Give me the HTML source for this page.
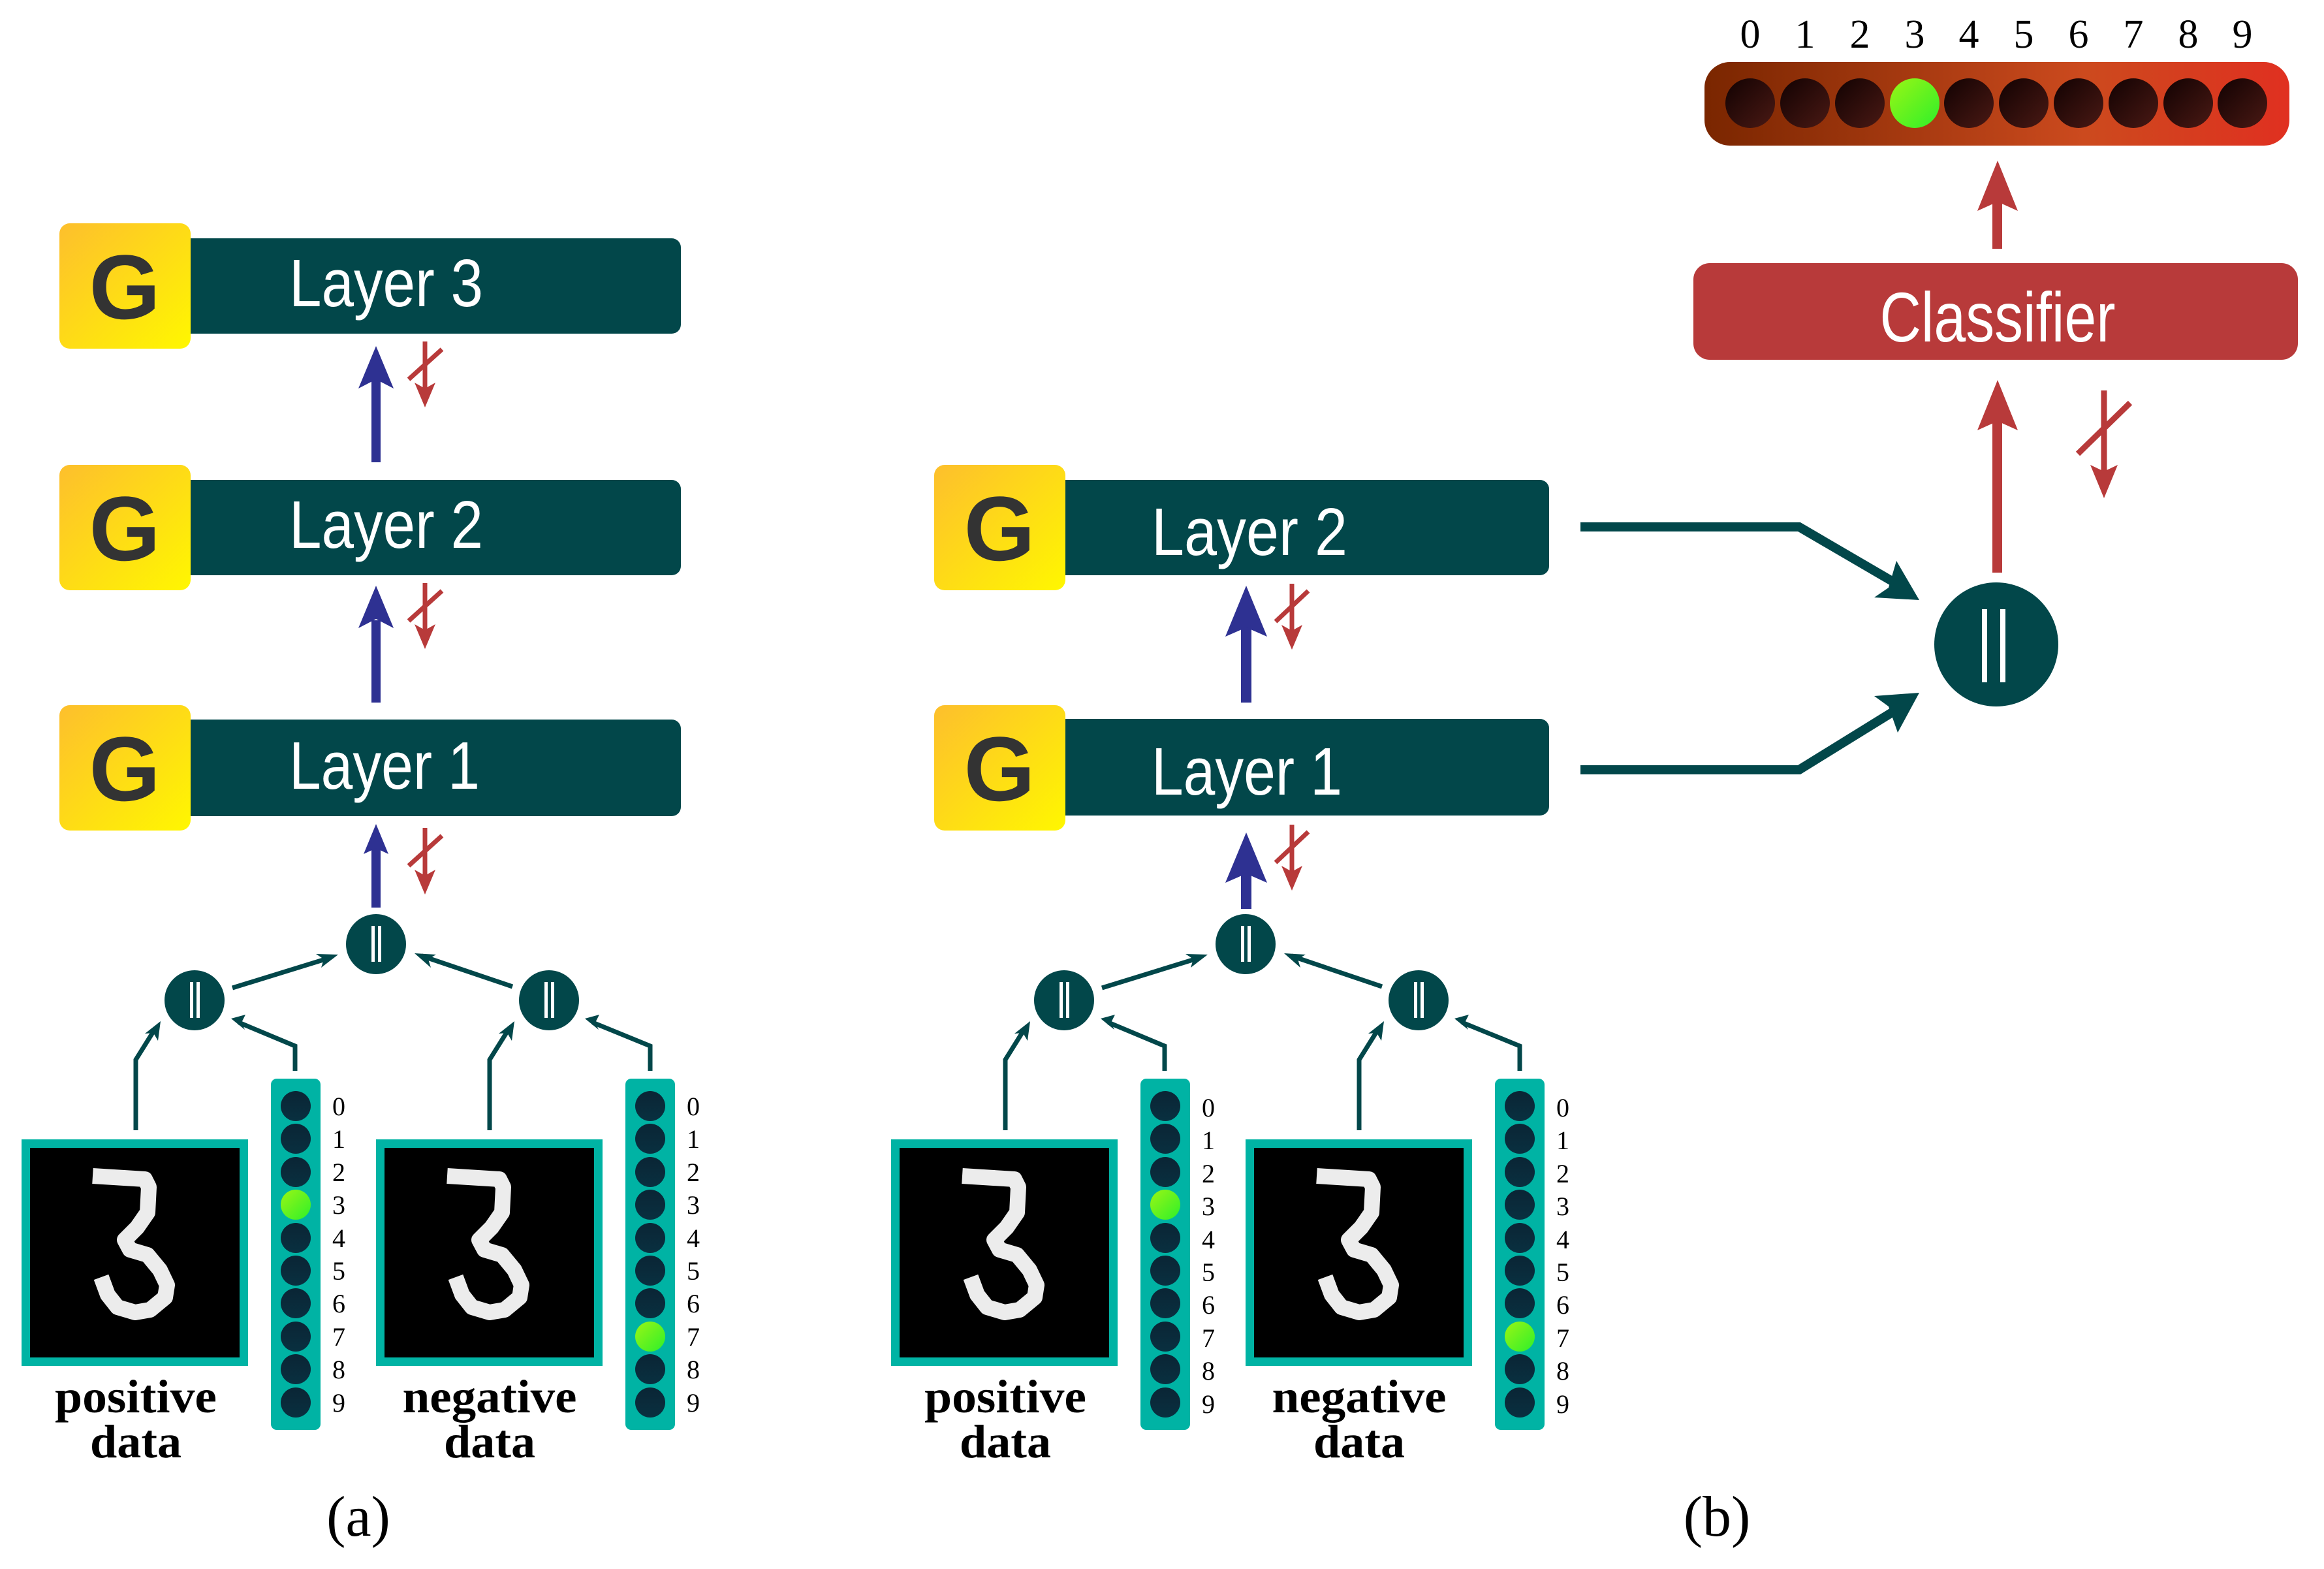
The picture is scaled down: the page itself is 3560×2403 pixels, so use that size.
<!DOCTYPE html>
<html><head><meta charset="utf-8"><style>
html,body{margin:0;padding:0;background:#fff;}
svg{display:block;}
.lt{font-family:"Liberation Sans",sans-serif;fill:#fff;font-size:103px;}
.g{font-family:"Liberation Sans",sans-serif;font-weight:bold;fill:#333;font-size:140px;}
.dl{font-family:"Liberation Serif",serif;font-size:40px;fill:#000;}
.cap{font-family:"Liberation Serif",serif;font-weight:bold;font-size:72px;fill:#000;}
</style></head><body>
<svg width="3560" height="2403" viewBox="0 0 3560 2403" xmlns="http://www.w3.org/2000/svg">
<defs>
<linearGradient id="gy" x1="0" y1="0" x2="1" y2="1"><stop offset="0" stop-color="#fdbf2d"/><stop offset="1" stop-color="#fff700"/></linearGradient>
<linearGradient id="ob" x1="0" y1="0" x2="1" y2="0"><stop offset="0" stop-color="#7a2600"/><stop offset="0.65" stop-color="#cc4a1e"/><stop offset="1" stop-color="#e03020"/></linearGradient>
<linearGradient id="dk" x1="0" y1="0" x2="1" y2="1"><stop offset="0" stop-color="#120202"/><stop offset="1" stop-color="#4a1914"/></linearGradient>
<linearGradient id="gr" x1="0" y1="0" x2="1" y2="1"><stop offset="0" stop-color="#9af515"/><stop offset="1" stop-color="#2ef02a"/></linearGradient>
<linearGradient id="vd" x1="0" y1="0" x2="0" y2="1"><stop offset="0" stop-color="#0a2535"/><stop offset="1" stop-color="#093040"/></linearGradient>
</defs>

<!-- ===== Panel (a) layers ===== -->
<g>
<rect x="120" y="365" width="923" height="146" rx="14" fill="#02474a"/>
<rect x="91" y="342" width="201" height="192" rx="16" fill="url(#gy)"/>
<text class="g" x="191" y="488" text-anchor="middle">G</text>
<text class="lt" x="443" y="469" textLength="297" lengthAdjust="spacingAndGlyphs">Layer 3</text>

<rect x="120" y="735" width="923" height="146" rx="14" fill="#02474a"/>
<rect x="91" y="712" width="201" height="192" rx="16" fill="url(#gy)"/>
<text class="g" x="191" y="858" text-anchor="middle">G</text>
<text class="lt" x="443" y="839" textLength="297" lengthAdjust="spacingAndGlyphs">Layer 2</text>

<rect x="120" y="1102" width="923" height="148" rx="14" fill="#02474a"/>
<rect x="91" y="1080" width="201" height="192" rx="16" fill="url(#gy)"/>
<text class="g" x="191" y="1226" text-anchor="middle">G</text>
<text class="lt" x="443" y="1208" textLength="292" lengthAdjust="spacingAndGlyphs">Layer 1</text>

<rect x="569" y="580" width="14" height="128" fill="#2e3192"/>
<polygon points="576,530 603,595 576,581 549,595" fill="#2e3192"/>
<rect x="569" y="950" width="14" height="126" fill="#2e3192"/>
<polygon points="576,897 603,962 576,948 549,962" fill="#2e3192"/>
<rect x="569" y="1290" width="14" height="100" fill="#2e3192"/>
<polygon points="576,1262 595,1308 576,1299 557,1308" fill="#2e3192"/>
<g fill="#b83a3a" stroke="#b83a3a">
<line x1="651" y1="523" x2="651" y2="600" stroke-width="7"/>
<polygon points="651,624 667,586 651,595 635,586" stroke="none"/>
<line x1="626" y1="581" x2="677" y2="535" stroke-width="7"/>
<line x1="651" y1="893" x2="651" y2="970" stroke-width="7"/>
<polygon points="651,994 667,956 651,965 635,956" stroke="none"/>
<line x1="626" y1="951" x2="677" y2="905" stroke-width="7"/>
<line x1="651" y1="1268" x2="651" y2="1346" stroke-width="7"/>
<polygon points="651,1370 667,1332 651,1341 635,1332" stroke="none"/>
<line x1="626" y1="1326" x2="677" y2="1280" stroke-width="7"/>
</g>
</g>

<!-- ===== Panel (b) layers ===== -->
<g>
<rect x="1460" y="735" width="913" height="146" rx="14" fill="#02474a"/>
<rect x="1431" y="712" width="201" height="192" rx="16" fill="url(#gy)"/>
<text class="g" x="1531" y="858" text-anchor="middle">G</text>
<text class="lt" x="1764" y="850" textLength="300" lengthAdjust="spacingAndGlyphs">Layer 2</text>

<rect x="1460" y="1101" width="913" height="148" rx="14" fill="#02474a"/>
<rect x="1431" y="1080" width="201" height="192" rx="16" fill="url(#gy)"/>
<text class="g" x="1531" y="1226" text-anchor="middle">G</text>
<text class="lt" x="1764" y="1217" textLength="292" lengthAdjust="spacingAndGlyphs">Layer 1</text>

<rect x="1901" y="960" width="16" height="116" fill="#2e3192"/>
<polygon points="1909,897 1941,975 1909,961 1877,975" fill="#2e3192"/>
<rect x="1901" y="1330" width="16" height="62" fill="#2e3192"/>
<polygon points="1909,1275 1941,1352 1909,1338 1877,1352" fill="#2e3192"/>
<g fill="#b83a3a" stroke="#b83a3a">
<line x1="1979" y1="894" x2="1979" y2="970" stroke-width="7"/>
<polygon points="1979,995 1995,957 1979,966 1963,957" stroke="none"/>
<line x1="1954" y1="952" x2="2004" y2="905" stroke-width="7"/>
<line x1="1979" y1="1263" x2="1979" y2="1340" stroke-width="7"/>
<polygon points="1979,1364 1995,1326 1979,1335 1963,1326" stroke="none"/>
<line x1="1954" y1="1321" x2="2004" y2="1274" stroke-width="7"/>
</g>

<g fill="none" stroke="#02474a" stroke-width="14">
<polyline points="2421,807 2756,807 2900,891"/>
<polyline points="2421,1179 2756,1179 2900,1090"/>
</g>
<polygon points="2940,919 2871,915 2893,900 2905,859" fill="#02474a"/>
<polygon points="2940,1061 2871,1066 2893,1082 2907,1122" fill="#02474a"/>
<circle cx="3058" cy="987" r="95" fill="#02474a"/>
<rect x="3036" y="933" width="8" height="112" fill="#fff"/>
<rect x="3064" y="933" width="8" height="112" fill="#fff"/>

<rect x="3052" y="640" width="15" height="237" fill="#b83a3a"/>
<polygon points="3060,582 3091,659 3060,645 3029,659" fill="#b83a3a"/>
<rect x="2594" y="403" width="926" height="148" rx="25" fill="#b83a3a"/>
<text x="3060" y="523" text-anchor="middle" font-family="'Liberation Sans',sans-serif" font-size="108" fill="#fff" textLength="361" lengthAdjust="spacingAndGlyphs">Classifier</text>
<rect x="3052" y="305" width="15" height="76" fill="#b83a3a"/>
<polygon points="3060,246 3091,323 3060,309 3029,323" fill="#b83a3a"/>
<g stroke="#b83a3a" stroke-width="9">
<line x1="3223" y1="598" x2="3223" y2="730"/>
<line x1="3183" y1="695" x2="3263" y2="617"/>
</g>
<polygon points="3223,763 3244,712 3223,722 3202,712" fill="#b83a3a"/>

<rect x="2611" y="95" width="896" height="128" rx="39" fill="url(#ob)"/>
<g fill="url(#dk)">
<ellipse cx="2681" cy="158" rx="38" ry="38"/>
<ellipse cx="2765" cy="158" rx="38" ry="38"/>
<ellipse cx="2849" cy="158" rx="38" ry="38"/>
<ellipse cx="2933" cy="158" rx="38" ry="38" fill="url(#gr)"/>
<ellipse cx="3016" cy="158" rx="38" ry="38"/>
<ellipse cx="3100" cy="158" rx="38" ry="38"/>
<ellipse cx="3184" cy="158" rx="38" ry="38"/>
<ellipse cx="3268" cy="158" rx="38" ry="38"/>
<ellipse cx="3352" cy="158" rx="38" ry="38"/>
<ellipse cx="3435" cy="158" rx="38" ry="38"/>
</g>
<g font-family="'Liberation Serif',serif" font-size="62" text-anchor="middle" fill="#000">
<text x="2681" y="73">0</text><text x="2765" y="73">1</text><text x="2849" y="73">2</text><text x="2933" y="73">3</text><text x="3016" y="73">4</text><text x="3100" y="73">5</text><text x="3184" y="73">6</text><text x="3268" y="73">7</text><text x="3352" y="73">8</text><text x="3435" y="73">9</text>
</g>
</g>

<!-- ===== Bottom input section (a) ===== -->
<g>
<g fill="#02474a">
<circle cx="576" cy="1446" r="46"/>
<circle cx="298" cy="1532" r="46"/>
<circle cx="841" cy="1532" r="46"/>
</g>
<g fill="#fff">
<rect x="569" y="1418" width="5" height="55"/><rect x="579" y="1418" width="5" height="55"/>
<rect x="291" y="1504" width="5" height="55"/><rect x="301" y="1504" width="5" height="55"/>
<rect x="834" y="1504" width="5" height="55"/><rect x="844" y="1504" width="5" height="55"/>
</g>
<g fill="none" stroke="#02474a" stroke-width="7">
<line x1="356" y1="1513" x2="505" y2="1467"/>
<line x1="785" y1="1511" x2="646" y2="1464"/>
<polyline points="208,1731 208,1623 238,1575"/>
<polyline points="452,1640 452,1602 366,1566"/>
<polyline points="750,1731 750,1623 780,1575"/>
<polyline points="996,1640 996,1602 908,1566"/>
</g>
<g fill="#02474a">
<polygon points="518,1462 492,1482 496,1469 484,1461"/>
<polygon points="635,1460 660,1482 656,1469 668,1462"/>
<polygon points="246,1564 242,1594 235,1582 222,1583"/>
<polygon points="354,1560 376,1554 370,1566 375,1577"/>
<polygon points="788,1564 784,1594 777,1582 764,1583"/>
<polygon points="896,1560 918,1554 912,1566 917,1577"/>
</g>
<rect x="33" y="1745" width="347" height="347" fill="#00b3a4"/>
<rect x="46" y="1758" width="321" height="321" fill="#000"/>
<polyline points="142,1801 222,1806 228,1818 226,1857 210,1880 191,1899 199,1914 226,1922 245,1945 256,1968 253,1987 230,2006 207,2010 180,2002 165,1983 155,1956" fill="none" stroke="#ececec" stroke-width="24" stroke-linejoin="round"/>
<rect x="576" y="1745" width="347" height="347" fill="#00b3a4"/>
<rect x="589" y="1758" width="321" height="321" fill="#000"/>
<polyline points="685,1801 765,1806 771,1818 769,1857 753,1880 734,1899 742,1914 769,1922 788,1945 799,1968 796,1987 773,2006 750,2010 723,2002 708,1983 698,1956" fill="none" stroke="#ececec" stroke-width="24" stroke-linejoin="round"/>
<rect x="415" y="1652" width="76" height="538" rx="9" fill="#00b3a4"/>
<rect x="958" y="1652" width="76" height="538" rx="9" fill="#00b3a4"/>
<g fill="url(#vd)">
<circle cx="453" cy="1694" r="23"/><circle cx="453" cy="1744" r="23"/><circle cx="453" cy="1795" r="23"/><circle cx="453" cy="1845" r="23" fill="url(#gr)"/><circle cx="453" cy="1896" r="23"/><circle cx="453" cy="1946" r="23"/><circle cx="453" cy="1996" r="23"/><circle cx="453" cy="2047" r="23"/><circle cx="453" cy="2097" r="23"/><circle cx="453" cy="2148" r="23"/>
<circle cx="996" cy="1694" r="23"/><circle cx="996" cy="1744" r="23"/><circle cx="996" cy="1795" r="23"/><circle cx="996" cy="1845" r="23"/><circle cx="996" cy="1896" r="23"/><circle cx="996" cy="1946" r="23"/><circle cx="996" cy="1996" r="23"/><circle cx="996" cy="2047" r="23" fill="url(#gr)"/><circle cx="996" cy="2097" r="23"/><circle cx="996" cy="2148" r="23"/>
</g>
<g class="dl">
<text x="509" y="1708">0</text><text x="509" y="1758">1</text><text x="509" y="1809">2</text><text x="509" y="1859">3</text><text x="509" y="1910">4</text><text x="509" y="1960">5</text><text x="509" y="2010">6</text><text x="509" y="2061">7</text><text x="509" y="2111">8</text><text x="509" y="2162">9</text>
<text x="1052" y="1708">0</text><text x="1052" y="1758">1</text><text x="1052" y="1809">2</text><text x="1052" y="1859">3</text><text x="1052" y="1910">4</text><text x="1052" y="1960">5</text><text x="1052" y="2010">6</text><text x="1052" y="2061">7</text><text x="1052" y="2111">8</text><text x="1052" y="2162">9</text>
</g>
<g class="cap" text-anchor="middle">
<text x="208" y="2163" textLength="248" lengthAdjust="spacingAndGlyphs">positive</text><text x="208" y="2232" textLength="140" lengthAdjust="spacingAndGlyphs">data</text>
<text x="750" y="2163" textLength="267" lengthAdjust="spacingAndGlyphs">negative</text><text x="750" y="2232" textLength="140" lengthAdjust="spacingAndGlyphs">data</text>
</g>
</g>

<!-- ===== Bottom input section (b) ===== -->
<g transform="translate(1332,0)">
<g fill="#02474a">
<circle cx="576" cy="1446" r="46"/>
<circle cx="298" cy="1532" r="46"/>
<circle cx="841" cy="1532" r="46"/>
</g>
<g fill="#fff">
<rect x="569" y="1418" width="5" height="55"/><rect x="579" y="1418" width="5" height="55"/>
<rect x="291" y="1504" width="5" height="55"/><rect x="301" y="1504" width="5" height="55"/>
<rect x="834" y="1504" width="5" height="55"/><rect x="844" y="1504" width="5" height="55"/>
</g>
<g fill="none" stroke="#02474a" stroke-width="7">
<line x1="356" y1="1513" x2="505" y2="1467"/>
<line x1="785" y1="1511" x2="646" y2="1464"/>
<polyline points="208,1731 208,1623 238,1575"/>
<polyline points="452,1640 452,1602 366,1566"/>
<polyline points="750,1731 750,1623 780,1575"/>
<polyline points="996,1640 996,1602 908,1566"/>
</g>
<g fill="#02474a">
<polygon points="518,1462 492,1482 496,1469 484,1461"/>
<polygon points="635,1460 660,1482 656,1469 668,1462"/>
<polygon points="246,1564 242,1594 235,1582 222,1583"/>
<polygon points="354,1560 376,1554 370,1566 375,1577"/>
<polygon points="788,1564 784,1594 777,1582 764,1583"/>
<polygon points="896,1560 918,1554 912,1566 917,1577"/>
</g>
<rect x="33" y="1745" width="347" height="347" fill="#00b3a4"/>
<rect x="46" y="1758" width="321" height="321" fill="#000"/>
<polyline points="142,1801 222,1806 228,1818 226,1857 210,1880 191,1899 199,1914 226,1922 245,1945 256,1968 253,1987 230,2006 207,2010 180,2002 165,1983 155,1956" fill="none" stroke="#ececec" stroke-width="24" stroke-linejoin="round"/>
<rect x="576" y="1745" width="347" height="347" fill="#00b3a4"/>
<rect x="589" y="1758" width="321" height="321" fill="#000"/>
<polyline points="685,1801 765,1806 771,1818 769,1857 753,1880 734,1899 742,1914 769,1922 788,1945 799,1968 796,1987 773,2006 750,2010 723,2002 708,1983 698,1956" fill="none" stroke="#ececec" stroke-width="24" stroke-linejoin="round"/>
<rect x="415" y="1652" width="76" height="538" rx="9" fill="#00b3a4"/>
<rect x="958" y="1652" width="76" height="538" rx="9" fill="#00b3a4"/>
<g fill="url(#vd)">
<circle cx="453" cy="1694" r="23"/><circle cx="453" cy="1744" r="23"/><circle cx="453" cy="1795" r="23"/><circle cx="453" cy="1845" r="23" fill="url(#gr)"/><circle cx="453" cy="1896" r="23"/><circle cx="453" cy="1946" r="23"/><circle cx="453" cy="1996" r="23"/><circle cx="453" cy="2047" r="23"/><circle cx="453" cy="2097" r="23"/><circle cx="453" cy="2148" r="23"/>
<circle cx="996" cy="1694" r="23"/><circle cx="996" cy="1744" r="23"/><circle cx="996" cy="1795" r="23"/><circle cx="996" cy="1845" r="23"/><circle cx="996" cy="1896" r="23"/><circle cx="996" cy="1946" r="23"/><circle cx="996" cy="1996" r="23"/><circle cx="996" cy="2047" r="23" fill="url(#gr)"/><circle cx="996" cy="2097" r="23"/><circle cx="996" cy="2148" r="23"/>
</g>
<g class="dl">
<text x="509" y="1710">0</text><text x="509" y="1760">1</text><text x="509" y="1811">2</text><text x="509" y="1861">3</text><text x="509" y="1912">4</text><text x="509" y="1962">5</text><text x="509" y="2012">6</text><text x="509" y="2063">7</text><text x="509" y="2113">8</text><text x="509" y="2164">9</text>
<text x="1052" y="1710">0</text><text x="1052" y="1760">1</text><text x="1052" y="1811">2</text><text x="1052" y="1861">3</text><text x="1052" y="1912">4</text><text x="1052" y="1962">5</text><text x="1052" y="2012">6</text><text x="1052" y="2063">7</text><text x="1052" y="2113">8</text><text x="1052" y="2164">9</text>
</g>
<g class="cap" text-anchor="middle">
<text x="208" y="2163" textLength="248" lengthAdjust="spacingAndGlyphs">positive</text><text x="208" y="2232" textLength="140" lengthAdjust="spacingAndGlyphs">data</text>
<text x="750" y="2163" textLength="267" lengthAdjust="spacingAndGlyphs">negative</text><text x="750" y="2232" textLength="140" lengthAdjust="spacingAndGlyphs">data</text>
</g>
</g>

<text x="549" y="2352" text-anchor="middle" font-family="'Liberation Serif',serif" font-size="88" fill="#000">(a)</text>
<text x="2630" y="2352" text-anchor="middle" font-family="'Liberation Serif',serif" font-size="88" fill="#000">(b)</text>
</svg>
</body></html>
